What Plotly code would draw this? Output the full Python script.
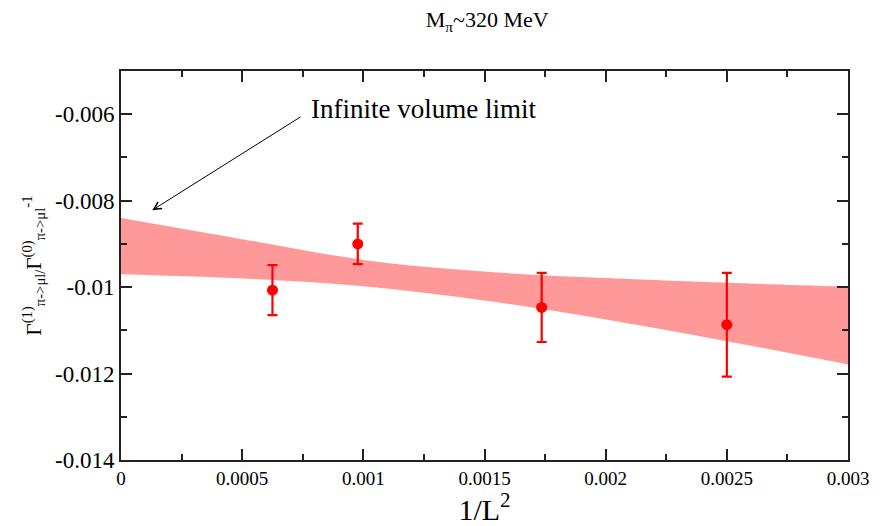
import plotly.graph_objects as go

# Lattice volumes expressed as 1/L^2
inv_L2 = [0.000625, 0.000977, 0.001736, 0.0025]
ratio = [-0.01007, -0.00900, -0.01047, -0.01087]
ratio_err = [0.00058, 0.00047, 0.00080, 0.00120]

# Fit error band (upper and lower edges)
band_x = [0.0, 0.0005, 0.001, 0.0015, 0.002, 0.0025, 0.003]
band_hi = [-0.00840, -0.00889, -0.00937, -0.00964, -0.00979, -0.00990, -0.00999]
band_lo = [-0.00970, -0.00980, -0.00998, -0.01031, -0.01075, -0.01125, -0.01179]

x_ticks = [0, 0.0005, 0.001, 0.0015, 0.002, 0.0025, 0.003]
x_labels = ["0", "0.0005", "0.001", "0.0015", "0.002", "0.0025", "0.003"]
y_ticks = [-0.014, -0.012, -0.010, -0.008, -0.006]
y_labels = ["-0.014", "-0.012", "-0.01", "-0.008", "-0.006"]

# Arrow pointing at the infinite-volume extrapolation
arrow_tail = (0.000747, -0.00604)
arrow_head = (0.000129, -0.00822)
note_pos = (0.000774, -0.00588)

FONT = "Liberation Serif"
BAND = "#ff9999"

fig = go.Figure()

# Band: lower edge first, then upper edge filled down to it
fig.add_trace(go.Scatter(
    x=band_x, y=band_lo, mode="lines",
    line=dict(width=0, color=BAND, shape="spline", smoothing=1.0),
    hoverinfo="skip", showlegend=False,
))
fig.add_trace(go.Scatter(
    x=band_x, y=band_hi, mode="lines", fill="tonexty", fillcolor=BAND,
    line=dict(width=0, color=BAND, shape="spline", smoothing=1.0),
    hoverinfo="skip", showlegend=False,
))

fig.add_trace(go.Scatter(
    x=inv_L2,
    y=ratio,
    mode="markers",
    marker=dict(color="#ff0000", size=11),
    error_y=dict(type="data", array=ratio_err, color="#ff0000",
                 thickness=2.2, width=5),
    showlegend=False,
))

fig.add_annotation(
    x=arrow_head[0], y=arrow_head[1], ax=arrow_tail[0], ay=arrow_tail[1],
    xref="x", yref="y", axref="x", ayref="y",
    text="", showarrow=True, arrowhead=5, arrowsize=1.5,
    arrowwidth=1, arrowcolor="#000000",
)
fig.add_annotation(
    x=note_pos[0], y=note_pos[1], xref="x", yref="y",
    text="Infinite volume limit", showarrow=False,
    xanchor="left", yanchor="middle",
    font=dict(family=FONT, size=27, color="#000000"),
)

axis_common = dict(
    showline=True, linecolor="#222222", linewidth=2, mirror="allticks",
    ticks="inside", ticklen=11, tickwidth=2, tickcolor="#222222",
    showgrid=False, zeroline=False,
)

fig.update_layout(
    width=881, height=526,
    margin=dict(l=121, r=29, t=71, b=62),
    paper_bgcolor="#ffffff", plot_bgcolor="#ffffff",
    font=dict(family=FONT, color="#000000"),
    title=dict(text="M<sub>π</sub>~320 MeV", x=0.553, xanchor="center",
               y=0.963, yanchor="middle",
               font=dict(family=FONT, size=22, color="#000000")),
    xaxis=dict(
        range=[0, 0.003], tickvals=x_ticks, ticktext=x_labels,
        tickfont=dict(family=FONT, size=19, color="#000000"),
        minor=dict(dtick=0.00025, ticks="inside", ticklen=6,
                   tickwidth=1.5, tickcolor="#222222", showgrid=False),
        title=dict(text="1/L<sup>2</sup>", standoff=4,
                   font=dict(family=FONT, size=30, color="#000000")),
        **axis_common,
    ),
    yaxis=dict(
        range=[-0.014, -0.005], tickvals=y_ticks, ticktext=y_labels,
        tickfont=dict(family=FONT, size=23, color="#000000"),
        minor=dict(dtick=0.001, ticks="inside", ticklen=6,
                   tickwidth=1.5, tickcolor="#222222", showgrid=False),
        title=dict(text="Γ<sup>(1)</sup><sub>π->μl/</sub>Γ<sup>(0)</sup><sub>π->μl</sub><sup>-1</sup>",
                   standoff=8,
                   font=dict(family=FONT, size=21, color="#000000")),
        **axis_common,
    ),
)

fig.write_html("out.html")
